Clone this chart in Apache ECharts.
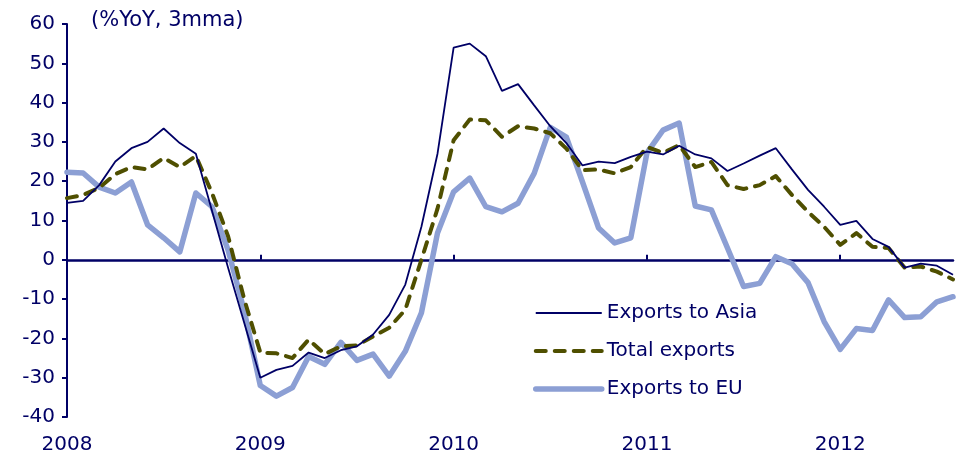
<!DOCTYPE html>
<html>
<head>
<meta charset="utf-8">
<script src="https://cdn.jsdelivr.net/npm/echarts@6/dist/echarts.min.js"></script>
<style>html,body{margin:0;padding:0;background:#fff}#c{width:958px;height:455px}</style>
</head>
<body>
<div id="c"></div>
<script>
// Monthly data, Jan 2008 – Aug 2012 (%YoY, 3mma)
var years = [2008, 2009, 2010, 2011, 2012];
var months = [];
for (var y = 2008; y <= 2012; y++) { for (var m = 1; m <= 12; m++) { if (y === 2012 && m > 8) break; months.push(y + '-' + (m < 10 ? '0' + m : m)); } }

var exportsAsia = [14.5, 15, 19, 25, 28.4, 30, 33.4, 29.7, 27, 12.5, -2, -16,
  -30, -28, -27, -23.6, -25, -23, -22, -19, -14, -6.3, 8.4, 27,
  54, 55, 51.8, 43, 44.7, 39.3, 34, 29.7, 24, 25, 24.6, 26.2,
  27.5, 26.8, 29, 26.8, 25.8, 22.6, 24.5, 26.5, 28.4, 23, 17.8, 13.5,
  8.9, 9.9, 5.3, 3.3, -2, -1, -1.5, -3.8];
var totalExports = [15.7, 16.5, 18.3, 21.8, 23.6, 23, 25.9, 23.6, 26.4, 17, 6, -10,
  -23.6, -23.8, -25, -20.3, -24, -22, -21.8, -19.5, -17.3, -12.7, 0, 13,
  30.4, 35.7, 35.5, 31.3, 34, 33.4, 32.2, 28.3, 22.8, 23, 22, 23.6,
  28.7, 27.2, 29.2, 23.6, 24.9, 19, 18, 19, 21.3, 16.5, 12.2, 8.4,
  3.8, 6.8, 3.3, 3, -2, -1.7, -3, -5];
var exportsEU = [22.3, 22.1, 18.5, 17, 19.8, 8.9, 5.6, 2, 17, 13.5, 2.5, -13,
  -32, -34.7, -32.5, -24.6, -26.6, -21, -25.6, -24, -29.6, -23.3, -13.5, 6.8,
  17.3, 20.8, 13.5, 12.2, 14.4, 22, 33.7, 31.2, 19.8, 8.1, 4.3, 5.6,
  27.2, 33, 34.8, 13.7, 12.7, 3, -6.8, -6, 0.8, -1, -5.8, -15.7,
  -22.8, -17.5, -18, -10.2, -14.7, -14.5, -10.7, -9.4];
var seriesNames = ['Exports to Asia', 'Total exports', 'Exports to EU'];
var yTicks = [-40, -30, -20, -10, 0, 10, 20, 30, 40, 50, 60];
var unitLabel = '(%YoY, 3mma)';

var navy = '#000066';
var olive = '#4f4f00';
var blue = '#8c9fd4';
var font = 'DejaVu Sans, Verdana, sans-serif';
var styleAsia = { color: navy, width: 1.8 };
var styleTotal = { color: olive, width: 4, type: [10, 9], cap: 'round', join: 'round' };
var styleEU = { color: blue, width: 5.5, cap: 'round', join: 'round' };

var chart = echarts.init(document.getElementById('c'));
chart.setOption({
  animation: false,
  backgroundColor: '#fff',
  textStyle: { fontFamily: font, color: navy },
  grid: { left: 67, right: 5, top: 24, bottom: 37, containLabel: false },
  title: { text: unitLabel, left: 86, top: 5, textStyle: { fontFamily: font, fontSize: 21, fontWeight: 'normal', color: navy } },
  legend: {
    orient: 'vertical', left: 528, top: 298, itemWidth: 66, itemHeight: 14, itemGap: 18,
    itemStyle: { opacity: 0 },
    textStyle: { fontFamily: font, fontSize: 20, color: navy, lineHeight: 20 },
    data: [
      { name: seriesNames[0], lineStyle: { width: 2 } },
      { name: seriesNames[1], lineStyle: { width: 4, type: [10, 9], cap: 'round' } },
      { name: seriesNames[2], lineStyle: { width: 5.5, cap: 'round' } }
    ]
  },
  xAxis: [{
    type: 'category', data: months, boundaryGap: false, position: 'bottom',
    axisLine: { show: false }, axisTick: { show: false }, splitLine: { show: false },
    axisLabel: {
      interval: function (i) { return i % 12 === 0; }, margin: 18,
      fontFamily: font, fontSize: 20, color: navy,
      formatter: function (v) { return v.slice(0, 4); }
    }
  }, {
    type: 'category', data: months, boundaryGap: false,
    axisLine: { show: true, onZero: true, onZeroAxisIndex: 0, lineStyle: { color: navy, width: 2.5 } },
    axisTick: { show: true, inside: false, length: 5, interval: function (i) { return i % 12 === 0 && i > 0; }, lineStyle: { color: navy, width: 2 } },
    axisLabel: { show: false }, splitLine: { show: false }
  }],
  yAxis: {
    type: 'value', min: yTicks[0], max: yTicks[yTicks.length - 1], interval: 10,
    axisLine: { show: true, lineStyle: { color: navy, width: 2 } },
    axisTick: { show: true, inside: false, length: 5, lineStyle: { color: navy, width: 2 } },
    splitLine: { show: false },
    axisLabel: { margin: 12, fontFamily: font, fontSize: 20, color: navy }
  },
  series: [{
    name: seriesNames[0], type: 'line', data: exportsAsia, symbol: 'none', z: 5,
    lineStyle: styleAsia, itemStyle: { color: navy }
  }, {
    name: seriesNames[1], type: 'line', data: totalExports, symbol: 'none', z: 4,
    lineStyle: styleTotal, itemStyle: { color: olive }
  }, {
    name: seriesNames[2], type: 'line', data: exportsEU, symbol: 'none', z: 3,
    lineStyle: styleEU, itemStyle: { color: blue }
  }]
});
</script>
</body>
</html>
